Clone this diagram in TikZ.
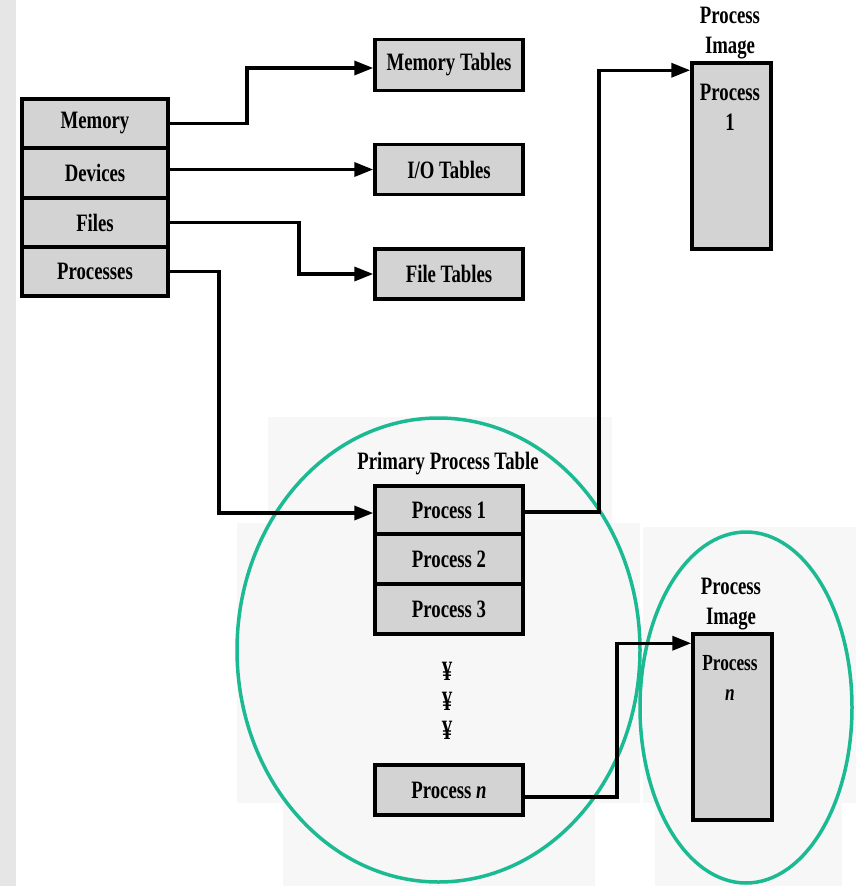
\documentclass[tikz,border=0pt]{standalone}
\usepackage{fontspec}
\setmainfont{Liberation Serif}[FakeStretch=0.75]
\usetikzlibrary{arrows.meta}
\definecolor{boxgray}{HTML}{D3D3D3}
\definecolor{ringgreen}{RGB}{28,186,146}
\definecolor{stripgray}{HTML}{E6E6E6}
\definecolor{patchgray}{HTML}{F7F7F7}
\begin{document}
\begin{tikzpicture}[x=1pt,y=-1pt,
  lbl/.style={font=\fontsize{25}{30}\selectfont\bfseries, align=center, inner sep=0pt},
  tablebox/.style={lbl, draw=black, fill=boxgray, line width=3.5pt,
    minimum width=148pt, minimum height=50pt},
  imagebox/.style={draw=black, fill=boxgray, line width=3.5pt,
    minimum width=79pt, minimum height=186pt, inner sep=0pt},
  conn/.style={line width=3.5pt, draw=black},
  arr/.style={conn, -{Triangle[length=19pt,width=14pt]}},
  ring/.style={draw=ringgreen, line width=3.5pt}]
\useasboundingbox (0,0) rectangle (856,886);
\fill[white] (0,0) rectangle (856,886);
% faint backdrop panels and left margin strip
\fill[stripgray] (0,0) rectangle (16,886);
\fill[patchgray] (268,417) rectangle (612,523);
\fill[patchgray] (237,523) rectangle (640,803);
\fill[patchgray] (283,803) rectangle (595,886);
\fill[patchgray] (643,527) rectangle (856,803);
\fill[patchgray] (655,803) rectangle (842,886);

% resource list
\node[tablebox, minimum width=146pt, minimum height=49pt] (mem) at (95,123.5) {Memory};
\node[tablebox, minimum width=146pt, minimum height=50pt] (dev) at (95,173) {Devices};
\node[tablebox, minimum width=146pt, minimum height=49pt] (fil) at (95,222.5) {Files};
\node[tablebox, minimum width=146pt, minimum height=49pt] (prc) at (95,271.5) {Processes};

% tables
\node[tablebox, minimum height=51pt] (memt) at (449,65) {Memory Tables};
\node[tablebox] (iot) at (449,169.5) {I/O Tables};
\node[tablebox] (filt) at (449,274) {File Tables};

% primary process table
\node[lbl] (ppt) at (448,464) {Primary Process Table};
\node[tablebox, minimum height=48pt] (p1) at (449,510) {Process 1};
\node[tablebox] (p2) at (449,559) {Process 2};
\node[tablebox] (p3) at (449,609) {Process 3};
\node[lbl, font=\fontsize{28}{30}\selectfont\bfseries] (d1) at (447,671) {¥};
\node[lbl, font=\fontsize{28}{30}\selectfont\bfseries] (d2) at (447,701) {¥};
\node[lbl, font=\fontsize{28}{30}\selectfont\bfseries] (d3) at (447,730) {¥};
\node[tablebox] (pn) at (449,790) {Process {\itshape n}};

% process images
\node[imagebox] (img1) at (731.5,156) {};
\node[lbl] (img1t) at (730,33) {Process\\Image};
\node[lbl] (img1c) at (730,107) {Process\\1};
\node[imagebox] (imgn) at (732.5,727) {};
\node[lbl] (imgnt) at (731,604) {Process\\Image};
\node[lbl, font=\fontsize{23}{30}\selectfont\bfseries] (imgnc) at (730,678) {Process\\{\itshape n}};

% green outlines
\draw[ring] (438.5,650) ellipse [x radius=201.5, y radius=232];
\draw[ring] (746,707.5) ellipse [x radius=106, y radius=175.5];

% connectors
\draw[arr] (mem.east) -- ++(77,0) |- ([yshift=-3pt]memt.west);
\draw[arr] (iot.west -| dev.east) -- (iot.west);
\draw[arr] (fil.east) -- ++(129,0) |- (filt.west);
\draw[arr] (prc.east) -- ++(49,0) |- ([yshift=-3pt]p1.west);
\draw[arr] ([yshift=-2pt]p1.east) -- ++(74,0) |- ([yshift=-9pt]img1.north west);
\draw[arr] ([yshift=-7pt]pn.east) -- ++(92,0) |- ([yshift=-11pt]imgn.north west);
\end{tikzpicture}
\end{document}
